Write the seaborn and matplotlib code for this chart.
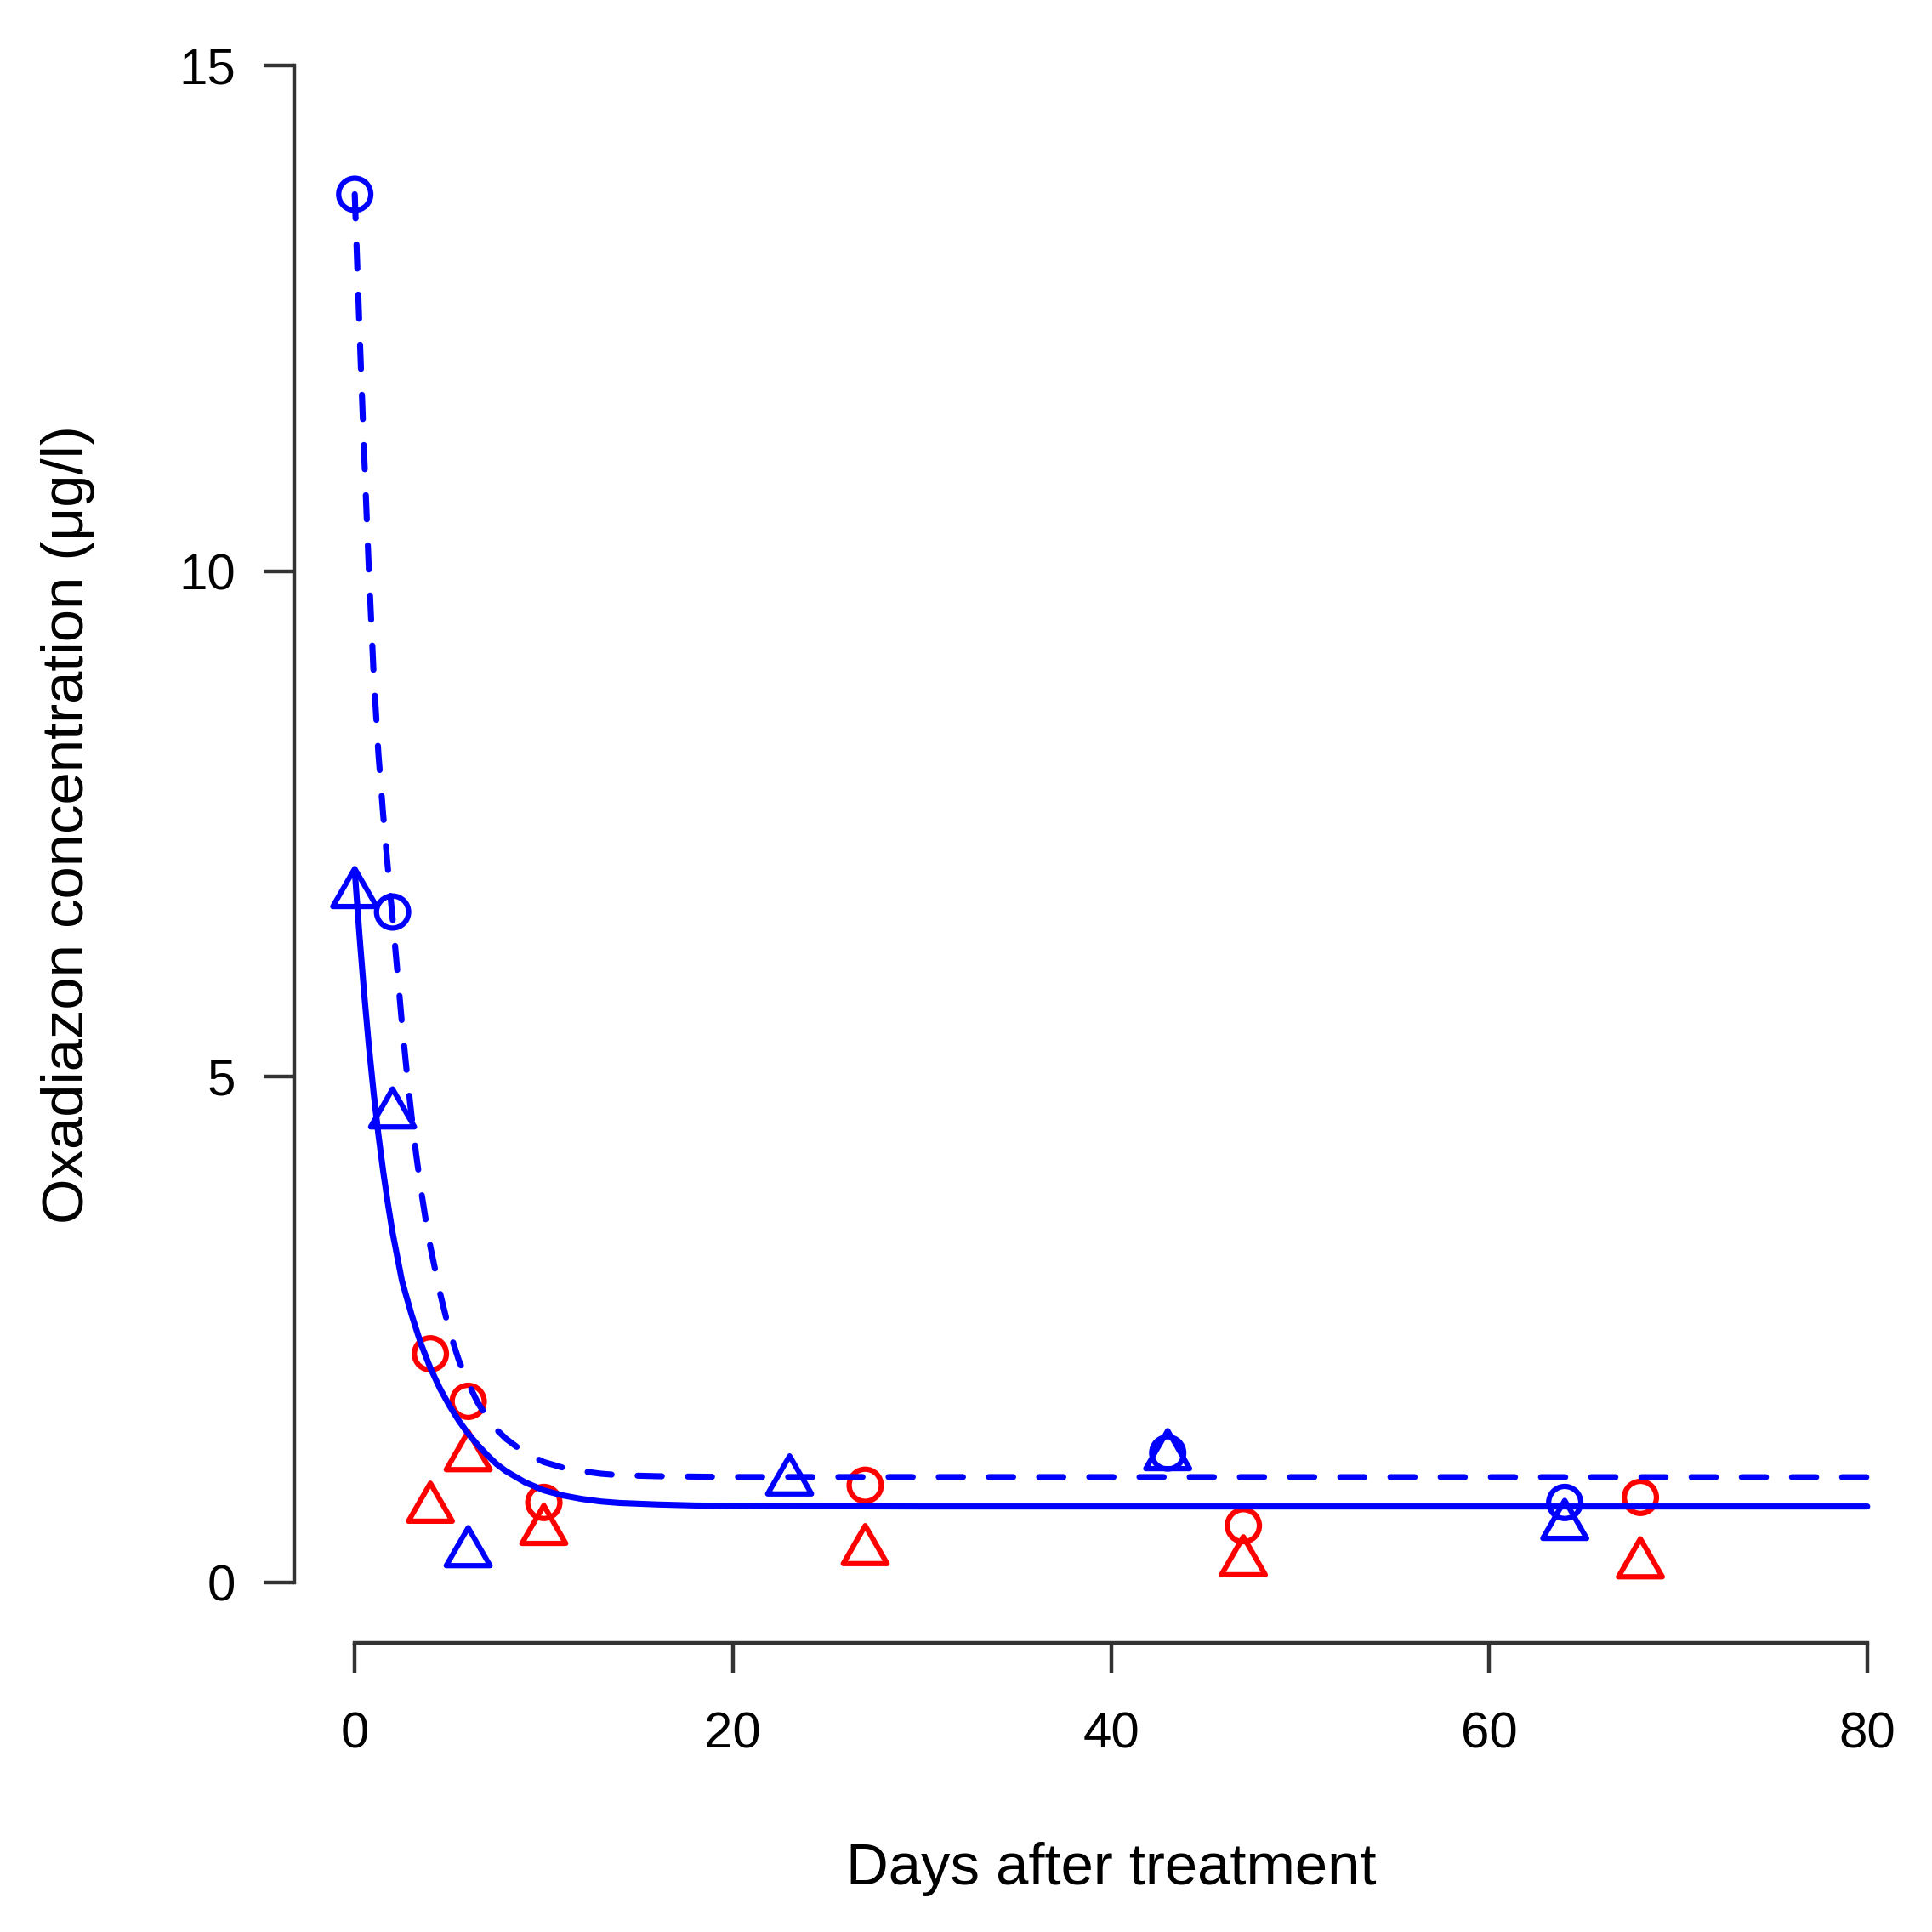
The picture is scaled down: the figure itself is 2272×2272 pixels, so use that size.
import matplotlib
matplotlib.use("Agg")
from matplotlib import pyplot as plt
from matplotlib.path import Path
import pandas as pd
import seaborn as sns

# measured points (days, concentration in ug/l)
blue_circle_days = [0, 2, 43, 64]
blue_circle_conc = [13.73, 6.63, 1.28, 0.79]
blue_tri_days = [0, 2, 6, 23, 43, 64]
blue_tri_conc = [6.81, 4.63, 0.29, 1.00, 1.25, 0.56]
red_circle_days = [4, 6, 10, 27, 47, 68]
red_circle_conc = [2.26, 1.79, 0.79, 0.96, 0.56, 0.84]
red_tri_days = [4, 6, 10, 27, 47, 68]
red_tri_conc = [0.73, 1.24, 0.51, 0.31, 0.20, 0.18]

# fitted curves
dashed_days = [0, 0.25, 0.5, 0.75, 1.0, 1.25, 1.5, 1.75, 2.0, 2.25, 2.5, 2.75, 3.0,
               3.25, 3.5, 3.75, 4.0, 4.5, 5.0, 5.5, 6.0, 6.5, 7.0, 7.5, 8.0, 9.0,
               10, 11, 12, 13, 14, 16, 20, 80]
dashed_conc = [13.73, 12.4, 11.15, 10.0, 8.98, 8.2, 7.6, 7.07, 6.57, 6.05, 5.52, 5.05, 4.62,
               4.23, 3.89, 3.59, 3.32, 2.87, 2.49, 2.20, 1.97, 1.78, 1.63, 1.51, 1.42, 1.28,
               1.19, 1.135, 1.10, 1.075, 1.06, 1.05, 1.042, 1.04]
solid_days = [0, 0.25, 0.5, 0.75, 1.0, 1.25, 1.5, 1.75, 2.0, 2.5, 3.0, 3.5, 4.0,
              4.5, 5.0, 5.5, 6.0, 6.5, 7.0, 7.5, 8.0, 9.0, 10, 11, 12, 13, 14, 16,
              18, 22, 30, 80]
solid_conc = [7.04, 6.40, 5.82, 5.30, 4.84, 4.43, 4.07, 3.75, 3.46, 2.98, 2.65, 2.36, 2.12,
              1.92, 1.75, 1.60, 1.47, 1.36, 1.26, 1.17, 1.10, 0.99, 0.91, 0.86, 0.825, 0.80,
              0.785, 0.77, 0.76, 0.753, 0.75, 0.75]

x_ticks = [0, 20, 40, 60, 80]
y_ticks = [0, 5, 10, 15]

sns.set_theme(style="ticks")
plt.rcParams['font.family'] = ['Liberation Sans', 'DejaVu Sans']

fig = plt.figure(figsize=(7.1, 7.1), dpi=320)
ax = fig.add_axes([0.1523, 0.1496, 0.8455, 0.8477])

# R-like open triangle, centred on its centroid
tri = Path([(0, 1.555), (1.347, -0.778), (-1.347, -0.778), (0, 1.555)], closed=True)

pts = [
    (blue_circle_days, blue_circle_conc, "blue", "o", 8.5 ** 2),
    (blue_tri_days, blue_tri_conc, "blue", tri, 13.4 ** 2),
    (red_circle_days, red_circle_conc, "red", "o", 8.5 ** 2),
    (red_tri_days, red_tri_conc, "red", tri, 13.4 ** 2),
]
for d, c, col, m, s in pts:
    df = pd.DataFrame({"day": d, "conc": c})
    sns.scatterplot(data=df, x="day", y="conc", marker=m, s=s, color=col,
                    facecolor="none", edgecolor=col, linewidth=1.4, ax=ax, zorder=3)

dfd = pd.DataFrame({"day": dashed_days, "conc": dashed_conc})
sns.lineplot(data=dfd, x="day", y="conc", color="blue", linewidth=1.6, ax=ax,
             errorbar=None, zorder=4)
ax.lines[-1].set_dashes((4.0, 4.3))
ax.lines[-1].set_dash_capstyle("round")

dfs = pd.DataFrame({"day": solid_days, "conc": solid_conc})
sns.lineplot(data=dfs, x="day", y="conc", color="blue", linewidth=1.6, ax=ax,
             errorbar=None, zorder=4)
ax.lines[-1].set_solid_joinstyle("round")

ax.set_xlim(-3.2, 83.2)
ax.set_ylim(-0.6, 15.6)
ax.set_xticks(x_ticks)
ax.set_yticks(y_ticks)
ax.set_xticklabels([str(t) for t in x_ticks])
ax.set_yticklabels([str(t) for t in y_ticks])

sns.despine(ax=ax)
for sp in ["left", "bottom"]:
    ax.spines[sp].set_color("#333333")
    ax.spines[sp].set_linewidth(1.0)
ax.spines["left"].set_bounds(0, 15)
ax.spines["bottom"].set_bounds(0, 80)
ax.tick_params(axis="both", direction="out", length=8.1, width=1.0, color="#333333",
               labelsize=13.5, labelcolor="black")
ax.tick_params(axis="x", pad=10)
ax.tick_params(axis="y", pad=7.5)

ax.set_xlabel("Days after treatment", fontsize=15.5, color="black")
ax.set_ylabel("Oxadiazon concentration (μg/l)", fontsize=15.5, color="black")
ax.xaxis.set_label_coords(0.5, -0.138)
ax.xaxis.label.set_va("center")
ax.yaxis.set_label_coords(-0.1385, 0.5)
ax.yaxis.label.set_va("center")

fig.savefig("out.png", dpi=320, facecolor="white")
